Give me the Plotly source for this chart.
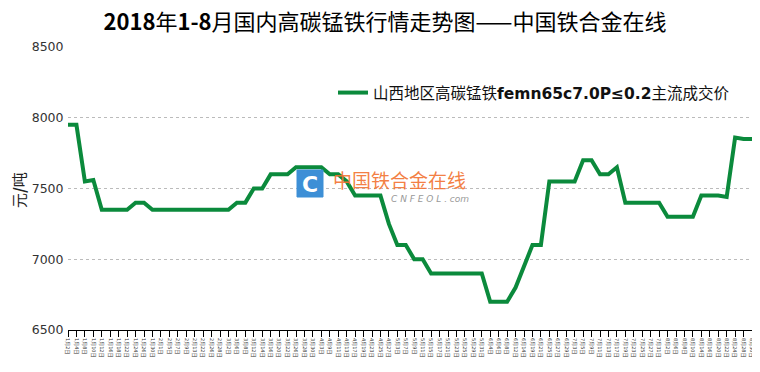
import plotly.graph_objects as go

dates = [
    "1月2日", "1月4日", "1月8日", "1月10日", "1月12日", "1月16日", "1月18日", "1月22日", "1月24日", "1月26日", "1月30日",
    "2月1日", "2月5日", "2月7日", "2月9日", "2月13日", "2月22日", "2月26日", "2月28日",
    "3月2日", "3月6日", "3月8日", "3月12日", "3月14日", "3月16日", "3月20日", "3月22日", "3月26日", "3月28日", "3月30日",
    "4月3日", "4月9日", "4月11日", "4月13日", "4月17日", "4月19日", "4月23日", "4月25日", "4月27日",
    "5月3日", "5月7日", "5月9日", "5月11日", "5月15日", "5月17日", "5月21日", "5月23日", "5月25日", "5月29日", "5月31日",
    "6月4日", "6月6日", "6月8日", "6月12日", "6月14日", "6月19日", "6月21日", "6月25日", "6月27日", "6月29日",
    "7月3日", "7月5日", "7月9日", "7月11日", "7月13日", "7月17日", "7月19日", "7月23日", "7月25日", "7月27日", "7月31日",
    "8月2日", "8月6日", "8月8日", "8月10日", "8月14日", "8月16日", "8月20日", "8月22日", "8月24日", "8月28日", "8月30日",
]

prices = [
    7950, 7950, 7550, 7560, 7350, 7350, 7350, 7350, 7400, 7400, 7350,
    7350, 7350, 7350, 7350, 7350, 7350, 7350, 7350,
    7350, 7400, 7400, 7500, 7500, 7600, 7600, 7600, 7650, 7650, 7650,
    7650, 7600, 7600, 7550, 7450, 7450, 7450, 7450, 7250,
    7100, 7100, 7000, 7000, 6900, 6900, 6900, 6900, 6900, 6900, 6900,
    6700, 6700, 6700, 6800, 6950, 7100, 7100, 7550, 7550, 7550,
    7550, 7700, 7700, 7600, 7600, 7650, 7400, 7400, 7400, 7400, 7400,
    7300, 7300, 7300, 7300, 7450, 7450, 7450, 7440, 7860, 7850, 7850,
]

series_name = "山西地区高碳锰铁<b>femn65c7.0P≤0.2</b>主流成交价"
y_ticks = [6500, 7000, 7500, 8000, 8500]

# page has an 8px body margin: figure occupies page x 8..760, y 8..372
OFF = 8
W, H = 760 - OFF, 372 - OFF
PL, PR, PT, PB = 68, 752, 47, 330  # plot area in page pixels
L, R, T, B = PL - OFF, 760 - PR, PT - OFF, 372 - PB


def px(x):
    return (x - PL) / (PR - PL)


def py(y):
    return (PB - y) / (PB - PT)


fig = go.Figure()
fig.add_trace(go.Scatter(
    x=dates, y=prices, mode="lines", name=series_name,
    line=dict(color="#0b8a3c", width=4),
))

fig.update_layout(
    width=W, height=H,
    margin=dict(l=L, r=R, t=T, b=B, autoexpand=False),
    paper_bgcolor="white", plot_bgcolor="white",
    font=dict(family="DejaVu Sans, Noto Sans CJK SC", color="#222"),
    title=dict(
        text="<b>2018</b>年<b>1-8</b>月国内高碳锰铁行情走势图——中国铁合金在线",
        x=(385 - OFF) / W, xanchor="center", y=1 - (22 - OFF) / H, yanchor="middle",
        font=dict(family="Liberation Sans Narrow, Noto Sans CJK SC", size=22, color="#000"),
    ),
    showlegend=True,
    legend=dict(
        x=px(333), y=py(93), xanchor="left", yanchor="middle",
        bgcolor="rgba(0,0,0,0)",
        font=dict(family="DejaVu Sans, Noto Sans CJK SC", size=15.5, color="#111"),
    ),
    xaxis=dict(
        type="category", range=[0, len(dates) - 1], automargin=False,
        showgrid=False, showline=True, linecolor="#000", linewidth=1,
        ticks="outside", ticklen=6, tickcolor="#000", tickwidth=1,
        tickangle=90, tickfont=dict(size=5, color="#333"),
        tickmode="array", tickvals=dates, ticktext=dates,
    ),
    yaxis=dict(
        range=[6500, 8500], tickvals=y_ticks, automargin=False,
        showgrid=True, gridcolor="#bbbbbb", griddash="dot", gridwidth=1,
        zeroline=False, showline=False,
        ticks="outside", ticklen=1, tickcolor="rgba(0,0,0,0)",
        tickfont=dict(size=12.5, color="#333"),
    ),
)

# y-axis title
fig.add_annotation(
    text="元<b>/</b>吨", textangle=-90, xref="paper", yref="paper",
    x=px(18), y=py(190), xanchor="center", yanchor="middle", showarrow=False,
    font=dict(family="Noto Sans CJK SC", size=15, color="#222"),
)

# watermark
fig.add_shape(
    type="rect", xref="paper", yref="paper",
    x0=px(297), x1=px(323), y0=py(197), y1=py(170),
    fillcolor="#3d8fd6", line=dict(color="#3d8fd6", width=1), layer="above",
)
fig.add_annotation(
    text="<b>C</b>", xref="paper", yref="paper",
    x=px(310), y=py(184), showarrow=False,
    font=dict(family="DejaVu Sans", size=22, color="white"),
)
fig.add_annotation(
    text="中国铁合金在线", xref="paper", yref="paper",
    x=px(331), y=py(179), xanchor="left", showarrow=False,
    font=dict(family="Noto Sans CJK SC", size=19, color="rgba(242,115,50,0.92)"),
)
fig.add_annotation(
    text="<i>C N F E O L . com</i>", xref="paper", yref="paper",
    x=px(389), y=py(199), xanchor="left", showarrow=False,
    font=dict(family="DejaVu Sans", size=9, color="#999"),
)

fig.write_html("out.html")
